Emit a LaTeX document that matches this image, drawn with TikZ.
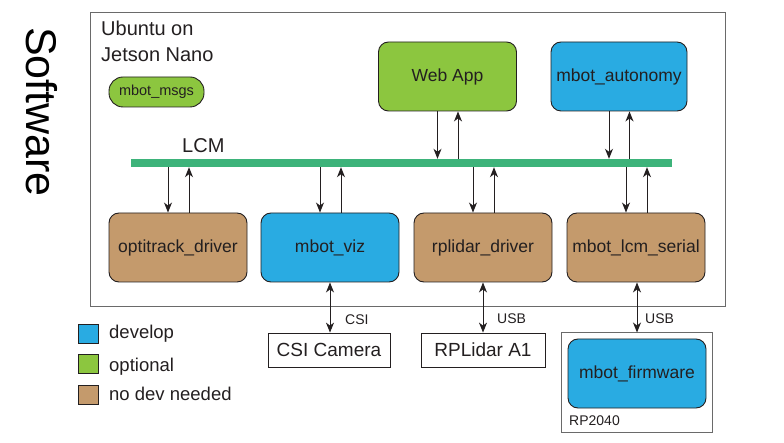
\documentclass[tikz,border=0pt]{standalone}
\usepackage{fontspec}
\setmainfont{Liberation Sans}
\usetikzlibrary{arrows.meta}
\definecolor{devblue}{HTML}{29ABE2}
\definecolor{optgreen}{HTML}{8CC63F}
\definecolor{nodevbrown}{HTML}{C49A6C}
\definecolor{lcmgreen}{HTML}{3DB37A}
\definecolor{ink}{HTML}{231F20}
\definecolor{frame}{HTML}{6A6A6A}
\tikzset{
  proc/.style={draw=ink, line width=0.9pt, rounded corners=10pt, minimum width=138pt, minimum height=69pt, inner sep=0pt, text=ink, font=\fontsize{17.5}{21}\selectfont},
  dev/.style={proc, fill=devblue},
  opt/.style={proc, fill=optgreen},
  nodev/.style={proc, fill=nodevbrown},
  hwbox/.style={draw=ink, line width=0.8pt, minimum height=34pt, inner sep=0pt, text=ink, font=\fontsize{19}{22}\selectfont},
  tip/.tip={Stealth[length=10pt,width=8pt,inset=3pt]},
  arr/.style={draw=ink, line width=1pt, -tip},
  biarr/.style={draw=ink, line width=1pt, tip-tip},
  small/.style={inner sep=0pt, text=ink, font=\fontsize{14}{16}\selectfont},
  legsq/.style={draw=ink, line width=0.8pt, minimum width=20pt, minimum height=19pt, inner sep=0pt},
  legtxt/.style={inner sep=0pt, anchor=base west, text=ink, font=\fontsize{18.5}{22}\selectfont},
}
\begin{document}
\begin{tikzpicture}[x=1pt, y=-1pt]
\useasboundingbox (0,0) rectangle (784,443);

% Software title
\node[rotate=-90, inner sep=0pt, text=black, font=\fontsize{43}{48}\selectfont] (sw) at (42,112) {Software};

% Jetson frame
\node[draw=frame, line width=1pt, minimum width=635pt, minimum height=294pt, inner sep=0pt] (jetson) at (407.5,159.7) {};
\node[inner sep=0pt, anchor=base west, text=ink, font=\fontsize{20}{24}\selectfont] (ub1) at (101,36) {Ubuntu on};
\node[inner sep=0pt, anchor=base west, text=ink, font=\fontsize{20}{24}\selectfont] (ub2) at (101,62) {Jetson Nano};

% mbot_msgs
\node[draw=ink, line width=0.9pt, fill=optgreen, rounded corners=14pt, minimum width=95pt, minimum height=30pt, inner sep=0pt, text=ink, font=\fontsize{14.5}{17}\selectfont] (msgs) at (156.5,92) {mbot\_msgs};

% LCM bus
\node[fill=lcmgreen, minimum width=541pt, minimum height=8pt, inner sep=0pt] (lcm) at (401.5,163) {};
\node[inner sep=0pt, anchor=base west, text=ink, font=\fontsize{20}{24}\selectfont] (lcmlbl) at (182,153) {LCM};

% top processes
\node[opt] (web) at (447.5,76.5) {Web App};
\node[dev, minimum width=136pt] (auto) at (619,76.5) {mbot\_autonomy};

% bottom processes
\node[nodev] (opti) at (178,247.5) {optitrack\_driver};
\node[dev] (viz) at (330,247.5) {mbot\_viz};
\node[nodev] (rpd) at (483,247.5) {rplidar\_driver};
\node[nodev] (ser) at (636,247.5) {mbot\_lcm\_serial};

% hardware
\node[hwbox, minimum width=122pt] (cam) at (329,350) {CSI Camera};
\node[hwbox, minimum width=124pt] (lidar) at (483,350) {RPLidar A1};
\node[draw=frame, line width=1pt, minimum width=151pt, minimum height=99pt, inner sep=0pt] (rp) at (636.5,382.5) {};
\node[dev] (fw) at (637,373.5) {mbot\_firmware};
\node[small, anchor=base west] (rplbl) at (569,425) {RP2040};

% LCM connectors (top)
\coordinate (w1) at ([xshift=-10pt]web.south);
\coordinate (w2) at ([xshift=10.5pt]web.south);
\coordinate (a1) at ([xshift=-10pt]auto.south);
\coordinate (a2) at ([xshift=10.5pt]auto.south);
\draw[arr] (w1) -- (w1 |- lcm.north);
\draw[arr] (w2 |- lcm.north) -- (w2);
\draw[arr] (a1) -- (a1 |- lcm.north);
\draw[arr] (a2 |- lcm.north) -- (a2);

% LCM connectors (bottom)
\foreach \n in {opti,viz,rpd,ser}{
  \coordinate (\n1) at ([xshift=-10pt]\n.north);
  \coordinate (\n2) at ([xshift=11pt]\n.north);
  \draw[arr] (\n1 |- lcm.south) -- (\n1);
  \draw[arr] (\n2) -- (\n2 |- lcm.south);
}

% hardware links
\draw[biarr] (viz.south) -- (viz.south |- cam.north);
\draw[biarr] (rpd.south) -- (rpd.south |- lidar.north);
\coordinate (s1) at ([xshift=1pt]ser.south);
\draw[biarr] (s1) -- (s1 |- rp.north);
\node[small, anchor=base west] (csil) at (345,325) {CSI};
\node[small, anchor=base west] (usb1) at (497,324) {USB};
\node[small, anchor=base west] (usb2) at (645,324) {USB};

% legend
\node[legsq, fill=devblue] (lg1) at (88,333.5) {};
\node[legsq, fill=optgreen] (lg2) at (88,364) {};
\node[legsq, fill=nodevbrown] (lg3) at (88,395) {};
\node[legtxt] (lt1) at (109,339) {develop};
\node[legtxt] (lt2) at (109,371) {optional};
\node[legtxt] (lt3) at (109,400) {no dev needed};
\end{tikzpicture}
\end{document}
